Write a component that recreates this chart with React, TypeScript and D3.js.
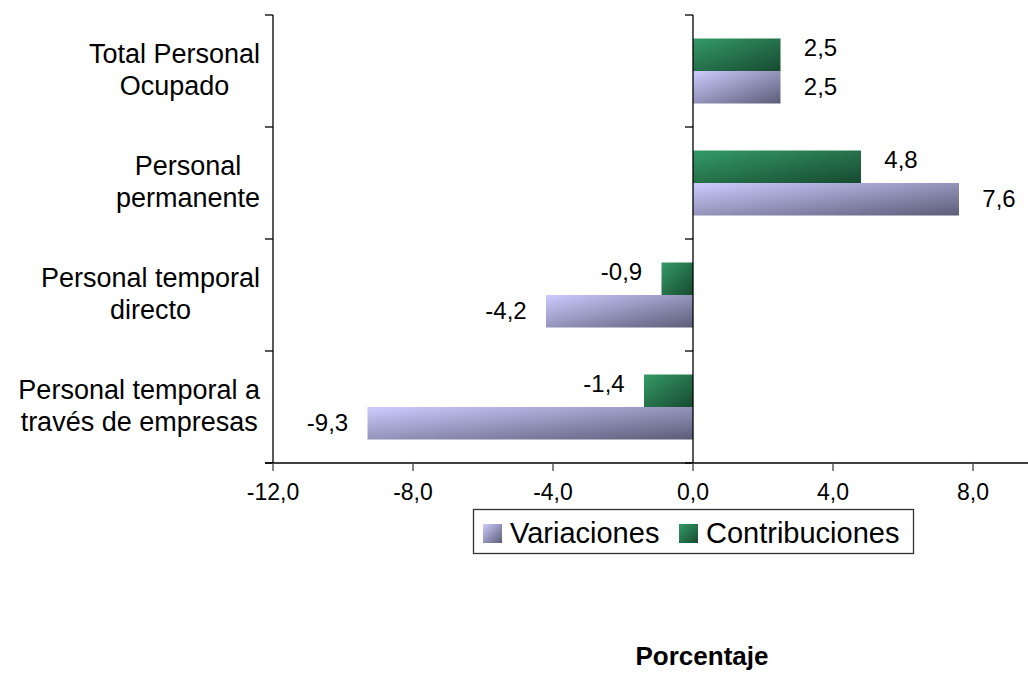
import React, { useMemo } from "react";
import * as d3 from "d3";

// Categories, top to bottom; each entry is split into its display lines.
const categories = [
  "Total Personal Ocupado",
  "Personal permanente",
  "Personal temporal directo",
  "Personal temporal a través de empresas",
];
const categoryLines = [
  ["Total Personal", "Ocupado"],
  ["Personal", "permanente"],
  ["Personal temporal", "directo"],
  ["Personal temporal a", "través de empresas"],
];

const seriesNames = ["Contribuciones", "Variaciones"];
const contribuciones = [2.5, 4.8, -0.9, -1.4];
const variaciones = [2.5, 7.6, -4.2, -9.3];

const xTicks = [-12, -8, -4, 0, 4, 8];
const legendOrder = ["Variaciones", "Contribuciones"];

const FONT = "'Liberation Sans', Arial, Helvetica, sans-serif";
const W = 1028;
const H = 674;

const fmt = (v: number) => v.toFixed(1).replace(".", ",");

function measure(text: string, size: number, weight = "normal") {
  const c = document.createElement("canvas").getContext("2d");
  if (!c) return text.length * size * 0.5;
  c.font = `${weight} ${size}px ${FONT}`;
  return c.measureText(text).width;
}

export default function App() {
  const plotTop = 15;
  const plotBottom = 463;
  const axisLeft = 273;

  const x = d3.scaleLinear().domain([-12, 12]).range([axisLeft, axisLeft + 24 * 35]);
  const y0 = d3.scaleBand<string>().domain(categories).range([plotTop, plotBottom]);
  const y1 = d3
    .scaleBand<string>()
    .domain(seriesNames)
    .range([0, y0.bandwidth()])
    .paddingInner(0)
    .paddingOuter(0.723);

  const values: Record<string, number[]> = {
    Contribuciones: contribuciones,
    Variaciones: variaciones,
  };
  const fills: Record<string, string> = {
    Contribuciones: "url(#gradGreen)",
    Variaciones: "url(#gradPurple)",
  };

  const catFont = 27;
  const lineH = 32;
  const labelRight = 260;
  const blockWidths = useMemo(
    () => categoryLines.map((ls) => Math.max(...ls.map((l) => measure(l, catFont)))),
    []
  );

  const x0 = x(0);
  const xEnd = W;

  return (
    <svg
      width={W}
      height={H}
      style={{ position: "absolute", left: 0, top: 0, background: "#fff" }}
      fontFamily={FONT}
    >
      <defs>
        <linearGradient id="gradPurple" x1="0" y1="0" x2="1" y2="1">
          <stop offset="0" stopColor="#ccccff" />
          <stop offset="1" stopColor="#5c5c78" />
        </linearGradient>
        <linearGradient id="gradGreen" x1="0" y1="0" x2="1" y2="1">
          <stop offset="0" stopColor="#349a67" />
          <stop offset="1" stopColor="#174a30" />
        </linearGradient>
      </defs>

      {/* bars */}
      {categories.map((cat, i) => (
        <g key={cat} transform={`translate(0,${y0(cat)})`}>
          {seriesNames.map((s) => {
            const v = values[s][i];
            const bx = Math.min(x(v), x0);
            const bw = Math.abs(x(v) - x0);
            return (
              <rect
                key={s}
                x={bx}
                y={y1(s)}
                width={bw}
                height={y1.bandwidth()}
                fill={fills[s]}
              />
            );
          })}
        </g>
      ))}

      {/* value labels */}
      {categories.map((cat, i) =>
        seriesNames.map((s) => {
          const v = values[s][i];
          const cy = (y0(cat) as number) + (y1(s) as number) + y1.bandwidth() / 2;
          const lx = x(v) + (v >= 0 ? 40 : -40);
          const dy = s === "Contribuciones" ? -7 : 0;
          return (
            <text
              key={cat + s}
              x={lx}
              y={cy + 8 + dy}
              fontSize={24}
              textAnchor="middle"
              fill="#000"
            >
              {fmt(v)}
            </text>
          );
        })
      )}

      {/* left axis line and category ticks */}
      <line x1={axisLeft} x2={axisLeft} y1={plotTop} y2={plotBottom} stroke="#000" strokeWidth={1.3} />
      <line x1={x0} x2={x0} y1={plotTop} y2={plotBottom} stroke="#000" strokeWidth={1.3} />
      {[...categories.map((c) => y0(c) as number), plotBottom].map((ty, k) => (
        <g key={k}>
          <line x1={axisLeft - 8} x2={axisLeft} y1={ty} y2={ty} stroke="#000" strokeWidth={1.3} />
          <line x1={x0 - 8} x2={x0} y1={ty} y2={ty} stroke="#000" strokeWidth={1.3} />
        </g>
      ))}

      {/* value axis */}
      <line x1={axisLeft - 8} x2={xEnd} y1={plotBottom} y2={plotBottom} stroke="#000" strokeWidth={1.3} />
      {xTicks.map((t) => (
        <g key={t}>
          <line x1={x(t)} x2={x(t)} y1={plotBottom} y2={plotBottom + 8} stroke="#444" strokeWidth={1.3} />
          <text x={x(t)} y={500} fontSize={23} textAnchor="middle" fill="#000">
            {fmt(t)}
          </text>
        </g>
      ))}

      {/* category labels: block right-aligned, lines centred within block */}
      {categories.map((cat, i) => {
        const c = (y0(cat) as number) + y0.bandwidth() / 2;
        const cx = labelRight - blockWidths[i] / 2;
        const n = categoryLines[i].length;
        return (
          <text key={cat} fontSize={catFont} textAnchor="middle" fill="#000">
            {categoryLines[i].map((l, k) => (
              <tspan key={k} x={cx} y={c + (k - (n - 1) / 2) * lineH + 7.5}>
                {l}
              </tspan>
            ))}
          </text>
        );
      })}

      {/* legend */}
      <g>
        <rect x={473.5} y={509.5} width={440} height={44} fill="#fff" stroke="#333" strokeWidth={1.3} />
        {(() => {
          const positions = [483, 679];
          return legendOrder.map((s, k) => (
            <g key={s}>
              <rect x={positions[k]} y={524} width={19} height={19} fill={fills[s]} />
              <text x={positions[k] + 27} y={543} fontSize={29} fill="#000">
                {s}
              </text>
            </g>
          ));
        })()}
      </g>

      {/* axis title */}
      <text x={702} y={665} fontSize={26} fontWeight="bold" textAnchor="middle" fill="#000">
        Porcentaje
      </text>
    </svg>
  );
}
